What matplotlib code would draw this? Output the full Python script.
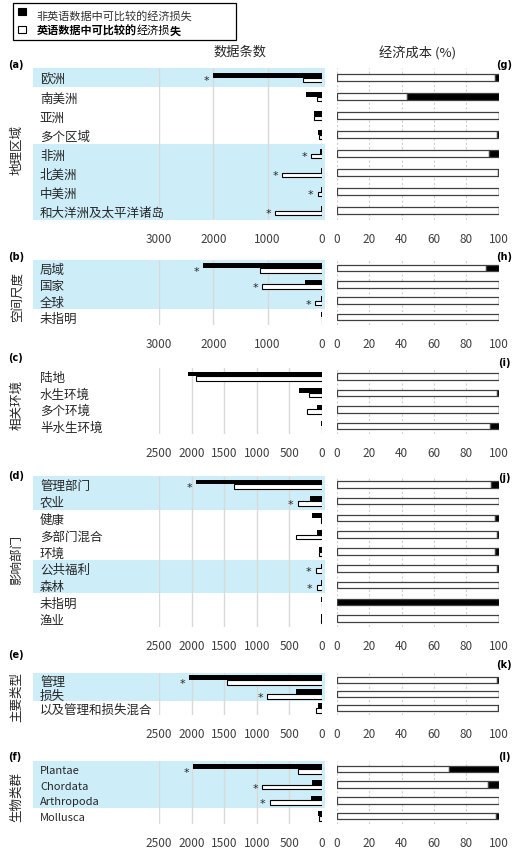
import numpy as np
import matplotlib.pyplot as plt
import matplotlib.transforms as mtransforms
from matplotlib.patches import Rectangle

plt.rcParams['font.family'] = ['Noto Sans CJK SC', 'DejaVu Sans']

# ---- data (records: non-English / English; cost share: English %) ----
REGION_CATS = ['欧洲', '南美洲', '亚洲', '多个区域', '非洲', '北美洲', '中美洲', '和大洋洲及太平洋诸岛']
REGION_NON_EN = [2000, 295, 150, 65, 30, 20, 15, 15]
REGION_EN = [345, 100, 150, 55, 195, 730, 80, 860]
REGION_EN_COST = [98.1, 43.4, 100, 98.8, 94.2, 99.7, 100, 100]
REGION_SIG = [1, 0, 0, 0, 1, 1, 1, 1]

SCALE_CATS = ['局域', '国家', '全球', '未指明']
SCALE_NON_EN = [2190, 310, 15, 20]
SCALE_EN = [1140, 1100, 120, 5]
SCALE_EN_COST = [92.4, 100, 100, 100]
SCALE_SIG = [1, 1, 1, 0]

ENV_CATS = ['陆地', '水生环境', '多个环境', '半水生环境']
ENV_NON_EN = [2050, 350, 70, 15]
ENV_EN = [1935, 205, 225, 5]
ENV_EN_COST = [100, 98.8, 100, 95]
ENV_SIG = [0, 0, 0, 0]

SECTOR_CATS = ['管理部门', '农业', '健康', '多部门混合', '环境', '公共福利', '森林', '未指明', '渔业']
SECTOR_NON_EN = [1925, 185, 160, 80, 50, 20, 20, 15, 15]
SECTOR_EN = [1345, 375, 20, 400, 45, 95, 80, 0, 10]
SECTOR_EN_COST = [95.4, 100, 97.7, 98.8, 98.0, 98.8, 100, 0, 100]
SECTOR_SIG = [1, 1, 0, 0, 0, 1, 1, 0, 0]

TYPE_CATS = ['管理', '损失', '以及管理和损失混合']
TYPE_NON_EN = [2040, 405, 60]
TYPE_EN = [1450, 840, 95]
TYPE_EN_COST = [98.8, 100, 99.6]
TYPE_SIG = [1, 1, 0]

TAXA_CATS = ['Plantae', 'Chordata', 'Arthropoda', 'Mollusca']
TAXA_NON_EN = [1980, 150, 170, 65]
TAXA_EN = [375, 920, 800, 45]
TAXA_EN_COST = [69.2, 93.4, 100, 98.6]
TAXA_SIG = [1, 1, 1, 0]

# ---- layout (pixels in a 513x853 canvas) ----
W, H = 513, 853
LEFT_X = (159, 322)
RIGHT_X = (337, 498.5)
SHADE_X = (33, 325)
SHADE_COLOR = '#cdedf8'
TEXT_COLOR = '#262626'
TICK_COLOR = '#404040'

PANELS = [
    dict(cats=REGION_CATS, non_en=REGION_NON_EN, en=REGION_EN, cost=REGION_EN_COST, sig=REGION_SIG,
         top=69, bottom=221, xmax=3000, step=1000, group='地理区域', gy=150,
         lt='(a)', ly=65, rt='(g)', ry=65, lsize=9),
    dict(cats=SCALE_CATS, non_en=SCALE_NON_EN, en=SCALE_EN, cost=SCALE_EN_COST, sig=SCALE_SIG,
         top=261, bottom=326, xmax=3000, step=1000, group='空间尺度', gy=297,
         lt='(b)', ly=257, rt='(h)', ry=257, lsize=9),
    dict(cats=ENV_CATS, non_en=ENV_NON_EN, en=ENV_EN, cost=ENV_EN_COST, sig=ENV_SIG,
         top=369, bottom=435, xmax=2500, step=500, group='相关环境', gy=405,
         lt='(c)', ly=358, rt='(i)', ry=363, lsize=9),
    dict(cats=SECTOR_CATS, non_en=SECTOR_NON_EN, en=SECTOR_EN, cost=SECTOR_EN_COST, sig=SECTOR_SIG,
         top=477, bottom=628, xmax=2500, step=500, group='影响部门', gy=560,
         lt='(d)', ly=476, rt='(j)', ry=478, lsize=9),
    dict(cats=TYPE_CATS, non_en=TYPE_NON_EN, en=TYPE_EN, cost=TYPE_EN_COST, sig=TYPE_SIG,
         top=674, bottom=716, xmax=2500, step=500, group='主要类型', gy=697,
         lt='(e)', ly=655, rt='(k)', ry=665, lsize=9),
    dict(cats=TAXA_CATS, non_en=TAXA_NON_EN, en=TAXA_EN, cost=TAXA_EN_COST, sig=TAXA_SIG,
         top=762, bottom=825, xmax=2500, step=500, group='生物类群', gy=797,
         lt='(f)', ly=757, rt='(l)', ry=757, lsize=8),
]


def fig_rect(x0, x1, y0, y1):
    return [x0 / W, 1 - y1 / H, (x1 - x0) / W, (y1 - y0) / H]


def runs(flags):
    ''' consecutive flagged rows -> (start, stop) '''
    out, start = [], None
    for i, f in enumerate(list(flags) + [0]):
        if f and start is None:
            start = i
        if not f and start is not None:
            out.append((start, i - 1))
            start = None
    return out


fig = plt.figure(figsize=(W / 100, H / 100), dpi=100)

for p in PANELS:
    n = len(p['cats'])
    y = np.arange(n)
    row_px = (p['bottom'] - p['top']) / n
    bh = 4.7 / row_px
    rh = 6.5 / row_px

    # left: record counts
    ax = fig.add_axes(fig_rect(LEFT_X[0], LEFT_X[1], p['top'], p['bottom']))
    ax.patch.set_visible(False)
    trans = mtransforms.blended_transform_factory(fig.transFigure, ax.transData)
    for a, b in runs(p['sig']):
        ax.add_patch(Rectangle((SHADE_X[0] / W, a - 0.5), (SHADE_X[1] - SHADE_X[0]) / W, b - a + 1,
                               transform=trans, facecolor=SHADE_COLOR, edgecolor='none',
                               zorder=0, clip_on=False))
    ax.barh(y - bh / 2, p['non_en'], height=bh, color='black', zorder=2)
    ax.barh(y + bh / 2, p['en'], height=bh, facecolor='white', edgecolor='black', lw=0.8, zorder=2)
    for i in y:
        if p['sig'][i]:
            ax.annotate('*', xy=(max(p['non_en'][i], p['en'][i]), i), xytext=(-5, -4.3),
                        textcoords='offset points', ha='center', va='baseline',
                        fontsize=8, family='DejaVu Sans', color=TEXT_COLOR)
    ax.set_xlim(p['xmax'], 0)
    ax.set_ylim(n - 0.5, -0.5)
    ax.set_xticks(np.arange(0, p['xmax'] + 1, p['step']))
    ax.set_yticks(y, labels=p['cats'])
    for lbl in ax.get_yticklabels():
        lbl.set_ha('left')
    ax.tick_params(axis='y', length=0, pad=(LEFT_X[0] - 40) * 0.72,
                   labelsize=p['lsize'], labelcolor=TEXT_COLOR)
    ax.tick_params(axis='x', length=0, pad=8.5, labelsize=8.5, labelcolor=TICK_COLOR)
    ax.set_axisbelow(True)
    ax.xaxis.grid(True, color='#d9d9d9', lw=1)
    for s in ax.spines.values():
        s.set_visible(False)

    # right: economic cost share
    ax2 = fig.add_axes(fig_rect(RIGHT_X[0], RIGHT_X[1], p['top'], p['bottom']))
    ax2.patch.set_visible(False)
    cost = np.array(p['cost'])
    ax2.barh(y, cost, height=rh, facecolor='white', edgecolor='#404040', lw=0.9, zorder=2)
    ax2.barh(y, 100 - cost, left=cost, height=rh, facecolor='black', edgecolor='#404040', lw=0.9, zorder=2)
    ax2.set_xlim(0, 100)
    ax2.set_ylim(n - 0.5, -0.5)
    ax2.set_xticks(np.arange(0, 101, 20))
    ax2.set_yticks([])
    ax2.tick_params(axis='x', length=0, pad=8.5, labelsize=8.5, labelcolor=TICK_COLOR)
    ax2.set_axisbelow(True)
    ax2.xaxis.grid(True, color='#cfcfcf', lw=0.8, ls=(0, (2, 2)))
    for s in ax2.spines.values():
        s.set_visible(False)

    # panel letters and group label
    fig.text(8 / W, 1 - p['ly'] / H, p['lt'], fontsize=7, fontweight='bold',
             family='DejaVu Sans', va='center', ha='left')
    fig.text(504 / W, 1 - p['ry'] / H, p['rt'], fontsize=7, fontweight='bold',
             family='DejaVu Sans', va='center', ha='center')
    fig.text(17 / W, 1 - p['gy'] / H, p['group'], rotation=90, fontsize=9,
             ha='center', va='center', color=TEXT_COLOR)

# column titles
fig.text(240 / W, 1 - 52 / H, '数据条数', fontsize=9.5, ha='center', va='center', color=TEXT_COLOR)
fig.text(418 / W, 1 - 53 / H, '经济成本 (%)', fontsize=9.5, ha='center', va='center', color=TEXT_COLOR)

# legend box
fig.patches.append(Rectangle((13 / W, 1 - 41 / H), 223 / W, 37 / H, transform=fig.transFigure,
                             facecolor='white', edgecolor='black', lw=0.9))
fig.patches.append(Rectangle((17.7 / W, 1 - 16.3 / H), 8 / W, 7.6 / H, transform=fig.transFigure,
                             facecolor='black', edgecolor='black', lw=0.8))
fig.patches.append(Rectangle((17.7 / W, 1 - 34.3 / H), 8 / W, 7.6 / H, transform=fig.transFigure,
                             facecolor='white', edgecolor='black', lw=0.8))
fig.text(36.7 / W, 1 - 16.5 / H, '非英语数据中可比较的经济损失', fontsize=8, va='center', color='#333333')
x0 = 36.7
for txt, wt in [('英语数据中可比较的', 'bold'), ('经济损', 'normal'), ('失', 'bold')]:
    fig.text(x0 / W, 1 - 31 / H, txt, fontsize=8, fontweight=wt, va='center', color='black')
    x0 += len(txt) * 8 * 100 / 72

fig.savefig('out.png', dpi=100)
